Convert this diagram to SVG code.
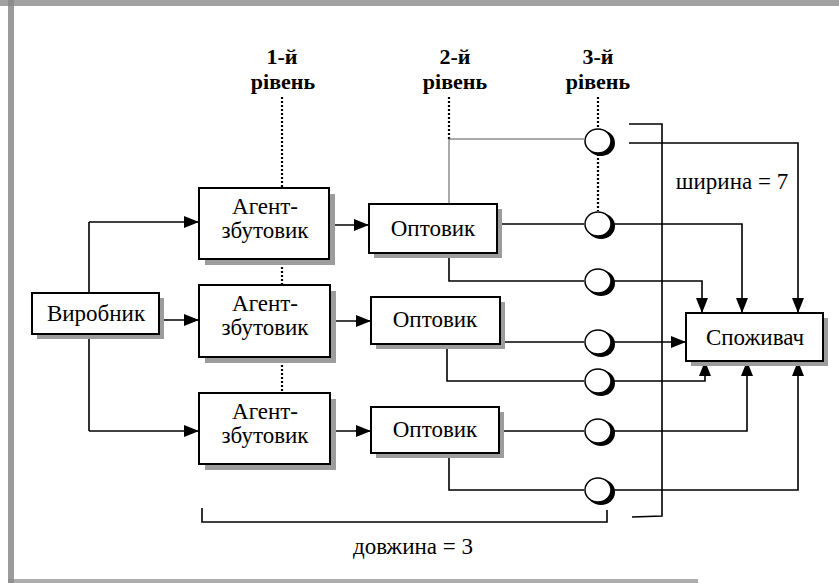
<svg xmlns="http://www.w3.org/2000/svg" width="839" height="583" viewBox="0 0 839 583" font-family="Liberation Serif, DejaVu Serif, Times New Roman, serif">
<style>
.box{fill:#fff;stroke:#000;stroke-width:2}
.shd{fill:#9c9c9c}
.t{font-size:23px;fill:#000;text-anchor:middle}
.lv{font-size:22px;font-weight:bold;fill:#000;text-anchor:middle}
.ln{fill:none;stroke:#000;stroke-width:1.6}
.thin{fill:none;stroke:#555;stroke-width:1}
.dot{fill:none;stroke:#000;stroke-width:2.2;stroke-dasharray:2 2}
.cs{fill:#000}
.cw{fill:#fff;stroke:#000;stroke-width:1.5}
</style>
<defs>
<marker id="ar" markerUnits="userSpaceOnUse" markerWidth="16" markerHeight="12" refX="15" refY="6" orient="auto">
<path d="M0,0 L15,6 L0,12 Z" fill="#000"/>
</marker>
</defs>
<rect width="839" height="583" fill="#fff"/>
<g id="frame">
<rect x="0" y="0" width="839" height="6" fill="#8a8a8a" opacity="0.8"/>
<rect x="8" y="0" width="6" height="583" fill="#8a8a8a" opacity="0.85"/>
<rect x="8" y="579" width="690" height="4" fill="#8a8a8a" opacity="0.7"/>
</g>
<g id="levels" font-family="Liberation Serif">
<text class="lv" x="282" y="64">1-й</text>
<text class="lv" x="283" y="89">рівень</text>
<text class="lv" x="455" y="64">2-й</text>
<text class="lv" x="455" y="89">рівень</text>
<text class="lv" x="598" y="64">3-й</text>
<text class="lv" x="598" y="89">рівень</text>
</g>
<g id="connectors">
<path class="dot" d="M282,97 V188 M282,259 V285 M282,357 V393 M449,97 V139 M598,97 V128 M598,154 V211"/>
<path class="thin" d="M449,204 V139 H584"/>
<path class="ln" d="M89,293 V222 M89,334 V431"/>
<path class="ln" marker-end="url(#ar)" d="M89,222 H199"/>
<path class="ln" marker-end="url(#ar)" d="M159,320 H199"/>
<path class="ln" marker-end="url(#ar)" d="M89,431 H199"/>
<path class="ln" marker-end="url(#ar)" d="M330,225 H369"/>
<path class="ln" marker-end="url(#ar)" d="M330,321 H371"/>
<path class="ln" marker-end="url(#ar)" d="M330,431 H371"/>
<path class="ln" d="M497,224 H584"/>
<path class="ln" d="M449,253 V281 H584"/>
<path class="ln" d="M500,342 H584"/>
<path class="ln" d="M447,344 V381 H584"/>
<path class="ln" d="M499,431 H584"/>
<path class="ln" d="M449,453 V490 H584"/>
<path class="ln" marker-end="url(#ar)" d="M629,143 H798 V313"/>
<path class="ln" marker-end="url(#ar)" d="M612,224 H742 V313"/>
<path class="ln" marker-end="url(#ar)" d="M612,281 H702 V313"/>
<path class="ln" marker-end="url(#ar)" d="M612,342 H686"/>
<path class="ln" marker-end="url(#ar)" d="M612,381 H705 V361"/>
<path class="ln" marker-end="url(#ar)" d="M612,431 H747 V361"/>
<path class="ln" marker-end="url(#ar)" d="M612,490 H798 V361"/>
<path class="ln" d="M629,124 H662 V516 L632,517"/>
<path class="ln" d="M202,508 V522 H607 V510"/>
</g>
<g id="circles">
<ellipse class="cs" cx="601" cy="143" rx="14" ry="13"/><ellipse class="cw" cx="598" cy="141" rx="13" ry="12"/>
<ellipse class="cs" cx="601" cy="226" rx="14" ry="13"/><ellipse class="cw" cx="598" cy="224" rx="13" ry="12"/>
<ellipse class="cs" cx="601" cy="283" rx="14" ry="13"/><ellipse class="cw" cx="598" cy="281" rx="13" ry="12"/>
<ellipse class="cs" cx="601" cy="344" rx="14" ry="13"/><ellipse class="cw" cx="598" cy="342" rx="13" ry="12"/>
<ellipse class="cs" cx="601" cy="383" rx="14" ry="13"/><ellipse class="cw" cx="598" cy="381" rx="13" ry="12"/>
<ellipse class="cs" cx="601" cy="433" rx="14" ry="13"/><ellipse class="cw" cx="598" cy="431" rx="13" ry="12"/>
<ellipse class="cs" cx="601" cy="492" rx="14" ry="13"/><ellipse class="cw" cx="598" cy="490" rx="13" ry="12"/>
</g>
<g id="vyrobnyk">
<rect class="shd" x="37" y="298" width="127" height="41"/>
<rect class="box" x="32" y="293" width="127" height="41"/>
<text class="t" x="96" y="321">Виробник</text>
</g>
<g id="agent1">
<rect class="shd" x="205" y="194" width="130" height="71"/>
<rect class="box" x="199" y="188" width="130" height="71"/>
<text class="t" x="265" y="214">Агент-</text>
<text class="t" x="265" y="238">збутовик</text>
</g>
<g id="agent2">
<rect class="shd" x="205" y="291" width="131" height="72"/>
<rect class="box" x="199" y="285" width="131" height="72"/>
<text class="t" x="265" y="311">Агент-</text>
<text class="t" x="265" y="335">збутовик</text>
</g>
<g id="agent3">
<rect class="shd" x="205" y="399" width="131" height="71"/>
<rect class="box" x="199" y="393" width="131" height="71"/>
<text class="t" x="265" y="419">Агент-</text>
<text class="t" x="265" y="443">збутовик</text>
</g>
<g id="optovyk1">
<rect class="shd" x="374" y="209" width="128" height="49"/>
<rect class="box" x="369" y="204" width="128" height="49"/>
<text class="t" x="433" y="236">Оптовик</text>
</g>
<g id="optovyk2">
<rect class="shd" x="376" y="302" width="129" height="47"/>
<rect class="box" x="371" y="297" width="129" height="47"/>
<text class="t" x="435" y="327">Оптовик</text>
</g>
<g id="optovyk3">
<rect class="shd" x="376" y="412" width="128" height="46"/>
<rect class="box" x="371" y="407" width="128" height="46"/>
<text class="t" x="435" y="437">Оптовик</text>
</g>
<g id="spozhyvach">
<rect class="shd" x="691" y="318" width="137" height="48"/>
<rect class="box" x="686" y="313" width="137" height="48"/>
<text class="t" x="755" y="345">Споживач</text>
</g>
<g id="labels">
<text class="t" x="732" y="189">ширина = 7</text>
<text class="t" x="413" y="554">довжина = 3</text>
</g>
</svg>
